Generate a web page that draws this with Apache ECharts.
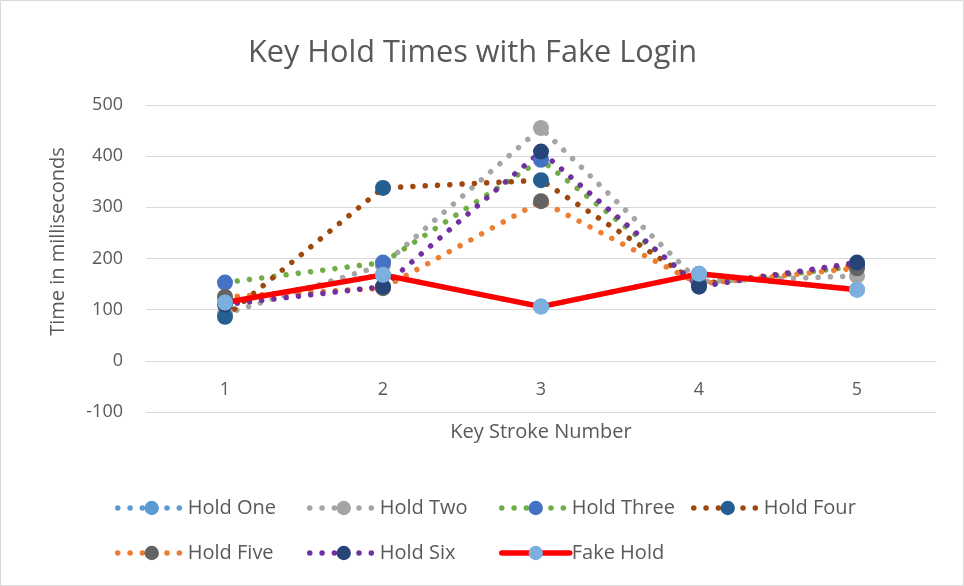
<!DOCTYPE html>
<html>
<head>
<meta charset="utf-8">
<script src="https://cdn.jsdelivr.net/npm/echarts@6/dist/echarts.min.js"></script>
<style>
    html, body { margin: 0; padding: 0; background: #fff; }
    #main { width: 964px; height: 586px; }
</style>
</head>
<body>
<div id="main"></div>
<script>
var keyStrokes = ['1', '2', '3', '4', '5'];
var seriesNames = ['Hold One', 'Hold Two', 'Hold Three', 'Hold Four', 'Hold Five', 'Hold Six', 'Fake Hold'];
var holdOne = [114, 168, 106, 170, 139];
var holdTwo = [92, 187, 455, 155, 166];
var holdThree = [153, 192, 393, 148, 185];
var holdFour = [86, 338, 353, 150, 188];
var holdFive = [125, 142, 312, 150, 181];
var holdSix = [110, 145, 409, 145, 192];
var fakeHold = [114, 168, 106, 170, 139];

var textColor = '#595959';
var fontName = 'Open Sans';

function dotted(name, data, lineColor, markerColor) {
    return {
        name: name,
        type: 'line',
        data: data,
        symbol: 'circle',
        symbolSize: 16,
        itemStyle: { color: markerColor },
        lineStyle: {
            color: lineColor,
            width: 5.5,
            type: [0.01, 12.3],
            cap: 'round'
        }
    };
}

// one legend per entry so the entries sit on Excel's column grid
function legendItems() {
    var list = [];
    for (var i = 0; i < seriesNames.length; i++) {
        list.push({
            left: 110 + (i % 4) * 192,
            top: i < 4 ? 493 : 538,
            itemWidth: 68,
            itemHeight: 18,
            itemGap: 0,
            lineStyle: { width: 'inherit', type: 'inherit', cap: 'inherit' },
            textStyle: { color: textColor, fontFamily: fontName, fontSize: 20, padding: [0, 0, 0, -3] },
            data: [seriesNames[i]]
        });
    }
    return list;
}

var chart = echarts.init(document.getElementById('main'));
var option = {
    backgroundColor: '#fff',
    animation: false,
    title: {
        text: 'Key Hold Times with Fake Login',
        left: 243,
        top: 33,
        textStyle: { color: textColor, fontFamily: fontName, fontSize: 30.7, fontWeight: 'normal' }
    },
    graphic: [{
        type: 'rect',
        silent: true,
        z: -10,
        shape: { x: 0.5, y: 0.5, width: 963, height: 585 },
        style: { fill: 'none', stroke: '#d9d9d9', lineWidth: 1 }
    }],
    legend: legendItems(),
    grid: { left: 146, right: 28, top: 105, bottom: 174, containLabel: false },
    xAxis: {
        type: 'category',
        data: keyStrokes,
        boundaryGap: true,
        offset: -51,
        name: 'Key Stroke Number',
        nameLocation: 'middle',
        nameGap: 61,
        nameTextStyle: { color: textColor, fontFamily: fontName, fontSize: 20 },
        axisLine: { onZero: false, lineStyle: { color: '#d9d9d9', width: 1 } },
        axisTick: { show: false },
        axisLabel: { color: textColor, fontFamily: fontName, fontSize: 18, margin: 20 }
    },
    yAxis: {
        type: 'value',
        min: -100,
        max: 500,
        interval: 100,
        name: 'Time in milliseconds',
        nameLocation: 'middle',
        nameGap: 78,
        nameTextStyle: { color: textColor, fontFamily: fontName, fontSize: 20, padding: [0, 0, 0, 34] },
        axisLine: { show: false },
        axisTick: { show: false },
        axisLabel: { color: textColor, fontFamily: fontName, fontSize: 18, margin: 23 },
        splitLine: { lineStyle: { color: '#d9d9d9', width: 1 } }
    },
    series: [
        dotted('Hold One', holdOne, '#5B9BD5', '#5B9BD5'),
        dotted('Hold Two', holdTwo, '#A5A5A5', '#A5A5A5'),
        dotted('Hold Three', holdThree, '#70AD47', '#4472C4'),
        dotted('Hold Four', holdFour, '#9E480E', '#255E91'),
        dotted('Hold Five', holdFive, '#ED7D31', '#636363'),
        dotted('Hold Six', holdSix, '#7030A0', '#264478'),
        {
            name: 'Fake Hold',
            type: 'line',
            data: fakeHold,
            symbol: 'circle',
            symbolSize: 16,
            itemStyle: { color: '#7CAFDD' },
            lineStyle: { color: '#FF0000', width: 5.5, cap: 'round' }
        }
    ]
};
chart.setOption(option);
</script>
</body>
</html>
